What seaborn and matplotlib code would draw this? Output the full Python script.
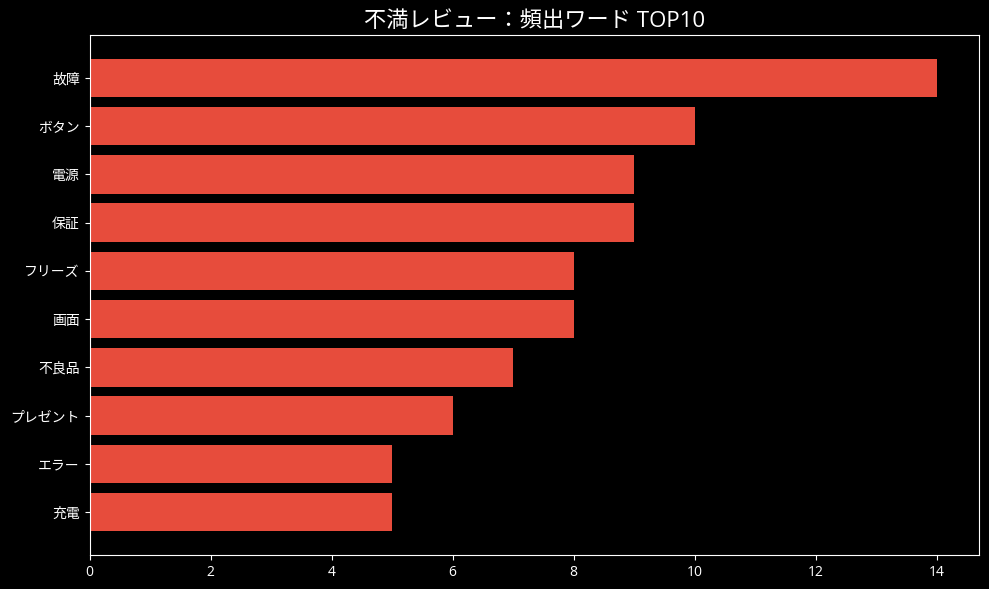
import pandas as pd
import matplotlib
matplotlib.use("Agg")
import matplotlib.pyplot as plt
import seaborn as sns

words = ["故障", "ボタン", "電源", "保証", "フリーズ", "画面", "不良品", "プレゼント", "エラー", "充電"]
counts = [14, 10, 9, 9, 8, 8, 7, 6, 5, 5]


def main():
    plt.style.use("dark_background")
    plt.rcParams["font.family"] = ["Open Sans", "Noto Sans CJK JP", "DejaVu Sans"]

    df = pd.DataFrame({"word": words, "count": counts})

    fig, ax = plt.subplots(figsize=(9.89, 5.89), dpi=100)
    fig.subplots_adjust(left=89.5 / 989, right=979 / 989, top=1 - 35 / 589, bottom=1 - 555 / 589)
    sns.barplot(data=df, y="word", x="count", color="#E74C3C", saturation=1, width=0.8, ax=ax)
    ax.set_ylim(len(words) - 1 + 0.89, -0.89)
    ax.set_xlim(0, max(counts) * 1.05)
    ax.set_xlabel("")
    ax.set_ylabel("")
    ax.set_title("不満レビュー：頻出ワード TOP10", fontsize=16)
    fig.savefig("out.png", dpi=100)


if __name__ == "__main__":
    main()
